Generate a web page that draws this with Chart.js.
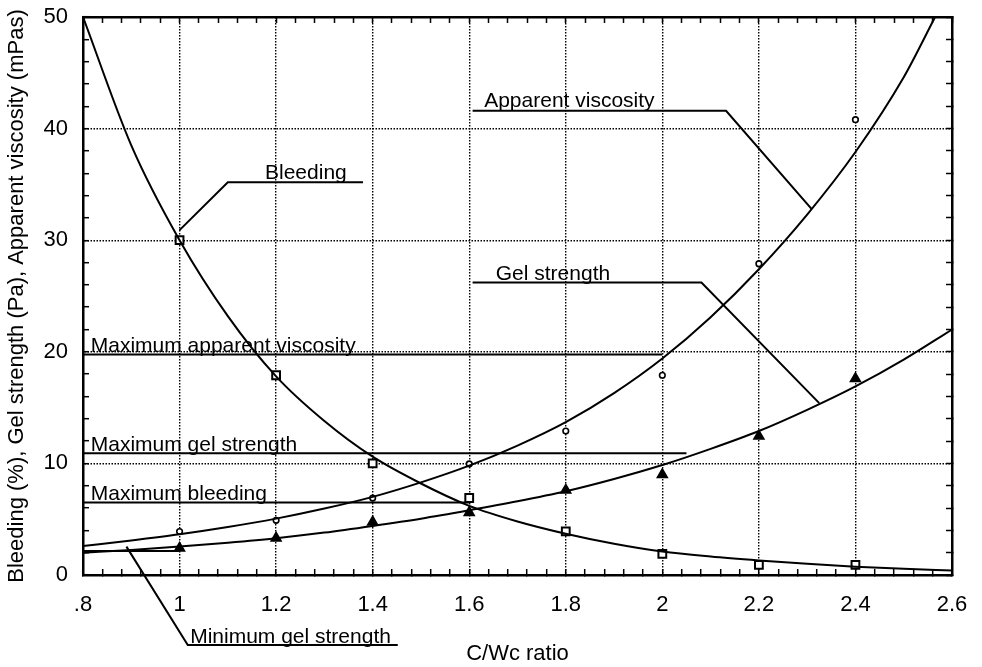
<!DOCTYPE html>
<html>
<head>
<meta charset="utf-8">
<title>C/Wc ratio</title>
<script src="https://cdn.jsdelivr.net/npm/chart.js@4.4.1/dist/chart.umd.min.js"></script>
<style>
  html, body { margin: 0; padding: 0; background: #fff; }
  #chart { display: block; }
</style>
</head>
<body>
<canvas id="chart" width="982" height="667"></canvas>
<script>
// ---------- Data ----------
// measured points
const sampleX      = [1.0, 1.2, 1.4, 1.6, 1.8, 2.0, 2.2, 2.4];
const bleedingPts  = [30, 17.9, 10, 6.9, 3.9, 1.9, 0.9, 0.9];
const viscosityPts = [3.9, 4.9, 6.9, 9.95, 12.9, 17.9, 27.9, 40.8];
const gelPts       = [2.4, 3.3, 4.75, 5.6, 7.6, 9.0, 12.45, 17.6];

// fitted curves
const curveX       = [0.8, 0.9, 1.0, 1.1, 1.2, 1.3, 1.4, 1.5, 1.6, 1.7, 1.8, 1.9, 2.0, 2.1, 2.2, 2.3, 2.4, 2.5, 2.6];
const bleedingFit  = [50, 38.5, 30, 23.2, 17.8, 13.8, 10.6, 8.2, 6.2, 4.8, 3.7, 2.8, 2.1, 1.65, 1.3, 1.0, 0.75, 0.55, 0.4];
const gelFit       = [2.0, 2.25, 2.55, 2.9, 3.3, 3.8, 4.4, 5.05, 5.8, 6.6, 7.5, 8.6, 9.85, 11.3, 12.9, 14.8, 16.9, 19.3, 22];
const viscCurveX   = [0.8, 0.9, 1.0, 1.1, 1.2, 1.3, 1.4, 1.5, 1.6, 1.7, 1.8, 1.9, 2.0, 2.1, 2.2, 2.3, 2.4, 2.5, 2.565];
const viscosityFit = [2.6, 3.1, 3.65, 4.3, 5.05, 5.95, 7.0, 8.3, 9.8, 11.6, 13.7, 16.3, 19.4, 23.1, 27.4, 32.3, 37.9, 44.6, 50];

// limit lines
const maxViscX  = [0.8, 2.0];   const maxViscY  = [19.75, 19.75];
const maxGelX   = [0.8, 2.05];  const maxGelY   = [10.9, 10.9];
const maxBleedX = [0.8, 1.6];   const maxBleedY = [6.5, 6.5];
const minGelX   = [0.8, 1.0];   const minGelY   = [2.15, 2.15];

// leader lines of the labels
const bleedLeadX = [1.0, 1.1, 1.38];      const bleedLeadY = [30.9, 35.2, 35.2];
const viscLeadX  = [1.607, 2.132, 2.309]; const viscLeadY  = [41.6, 41.6, 32.8];
const gelLeadX   = [1.607, 2.081, 2.325]; const gelLeadY   = [26.2, 26.2, 15.4];
const minGelLeadX = [0.89, 1.017, 1.452]; const minGelLeadY = [2.54, -6.27, -6.27];

// label texts, anchored at left / baseline
const labelText = ['Bleeding', 'Apparent viscosity', 'Gel strength', 'Maximum apparent viscosity',
                   'Maximum gel strength', 'Maximum bleeding', 'Minimum gel strength'];
const labelX    = [1.177, 1.631, 1.655, 0.816, 0.816, 0.816, 1.022];
const labelY    = [35.45, 41.9, 26.45, 20.0, 11.15, 6.7, -6.1];

// tick labels
const xTickValues = [0.8, 1.0, 1.2, 1.4, 1.6, 1.8, 2.0, 2.2, 2.4, 2.6];
const xTickLabels = ['.8', '1', '1.2', '1.4', '1.6', '1.8', '2', '2.2', '2.4', '2.6'];
const yTickValues = [0, 10, 20, 30, 40, 50];
const yTickLabels = ['0', '10', '20', '30', '40', '50'];

// ---------- Helpers ----------
const pts = (xs, ys) => xs.map((x, i) => ({ x, y: ys[i] }));
const idxOf = (arr, v) => arr.findIndex(t => Math.abs(t - v) < 1e-6);
const FONT = 'Liberation Sans';

const line = (xs, ys, extra) => Object.assign({
  data: pts(xs, ys), showLine: true, borderColor: '#000', borderWidth: 2,
  pointRadius: 0, fill: false, tension: 0
}, extra || {});

const curve = (xs, ys) => line(xs, ys, { cubicInterpolationMode: 'monotone' });

const marks = (ys, style, r, bg, bw) => ({
  data: pts(sampleX, ys), showLine: false, pointStyle: style, pointRadius: r,
  pointBackgroundColor: bg, pointBorderColor: '#000', pointBorderWidth: bw
});

// labels drawn through the scales
const labelPlugin = {
  id: 'labels',
  afterDatasetsDraw (chart) {
    const { ctx, scales: { x, y } } = chart;
    ctx.save();
    ctx.font = '21px "' + FONT + '"';
    ctx.fillStyle = '#000';
    ctx.textAlign = 'left';
    ctx.textBaseline = 'alphabetic';
    labelText.forEach((t, i) => ctx.fillText(t, x.getPixelForValue(labelX[i]), y.getPixelForValue(labelY[i])));
    ctx.restore();
  }
};

const gridCommon = (isMajor) => ({
  color: c => (c.tick && isMajor(c.tick.value)) ? '#000' : 'rgba(0,0,0,0)',
  lineWidth: 1.4,
  tickColor: '#000',
  tickWidth: 1.5,
  tickLength: -6
});

const isMajorX = v => idxOf(xTickValues, v) >= 0;
const isMajorY = v => idxOf(yTickValues, v) >= 0;

// fixed box sizes, no extra label padding from the layout
const fixBox = (w, h) => s => {
  if (w != null) s.width = w;
  if (h != null) s.height = h;
  s.paddingTop = s.paddingBottom = s.paddingLeft = s.paddingRight = 0;
};

new Chart(document.getElementById('chart'), {
  type: 'scatter',
  data: {
    datasets: [
      curve(curveX, bleedingFit),
      curve(viscCurveX, viscosityFit),
      curve(curveX, gelFit),
      line(maxViscX, maxViscY),
      line(maxGelX, maxGelY),
      line(maxBleedX, maxBleedY),
      line(minGelX, minGelY),
      line(bleedLeadX, bleedLeadY),
      line(viscLeadX, viscLeadY),
      line(gelLeadX, gelLeadY),
      line(minGelLeadX, minGelLeadY, { clip: false }),
      marks(bleedingPts, 'rect', 5.5, '#fff', 2),
      marks(viscosityPts, 'circle', 2.8, '#fff', 1.6),
      marks(gelPts, 'triangle', 5.8, '#000', 1.5)
    ]
  },
  options: {
    responsive: false,
    animation: false,
    devicePixelRatio: 1,
    layout: { padding: { top: 17, right: 30, left: 0, bottom: 0 } },
    plugins: { legend: { display: false }, tooltip: { enabled: false } },
    scales: {
      x: {
        type: 'linear', position: 'bottom', min: 0.8, max: 2.6,
        ticks: {
          stepSize: 0.04, autoSkip: false, maxRotation: 0, padding: 23, color: '#000',
          font: { family: FONT, size: 22 },
          callback: v => { const i = idxOf(xTickValues, v); return i >= 0 ? xTickLabels[i] : ''; }
        },
        grid: gridCommon(isMajorX),
        border: { color: '#000', width: 2.5, dash: [1.5, 1.5] },
        title: { display: true, text: 'C/Wc ratio', color: '#000', font: { family: FONT, size: 22 }, padding: { top: 0, bottom: 0 } },
        afterFit: fixBox(null, 92)
      },
      y: {
        type: 'linear', position: 'left', min: 0, max: 50,
        ticks: {
          stepSize: 2, autoSkip: false, padding: 21, color: '#000',
          font: { family: FONT, size: 22 },
          callback: v => { const i = idxOf(yTickValues, v); return i >= 0 ? yTickLabels[i] : ''; }
        },
        grid: gridCommon(isMajorY),
        border: { color: '#000', width: 2.5, dash: [1.5, 1.5] },
        title: { display: true, text: 'Bleeding (%), Gel strength (Pa), Apparent viscosity (mPas)', color: '#000',
                 font: { family: FONT, size: 22 }, padding: { top: 4, bottom: 0 } },
        afterFit: fixBox(83, null)
      },
      x2: {
        type: 'linear', position: 'top', min: 0.8, max: 2.6,
        ticks: { stepSize: 0.04, autoSkip: false, display: false },
        grid: { drawOnChartArea: false, tickColor: '#000', tickWidth: 1.5, tickLength: -6 },
        border: { color: '#000', width: 2.5 },
        afterFit: fixBox(null, 0)
      },
      y2: {
        type: 'linear', position: 'right', min: 0, max: 50,
        ticks: { stepSize: 2, autoSkip: false, display: false },
        grid: { drawOnChartArea: false, tickColor: '#000', tickWidth: 1.5, tickLength: -6 },
        border: { color: '#000', width: 2.5 },
        afterFit: fixBox(0, null)
      }
    }
  },
  plugins: [labelPlugin]
});
</script>
</body>
</html>
